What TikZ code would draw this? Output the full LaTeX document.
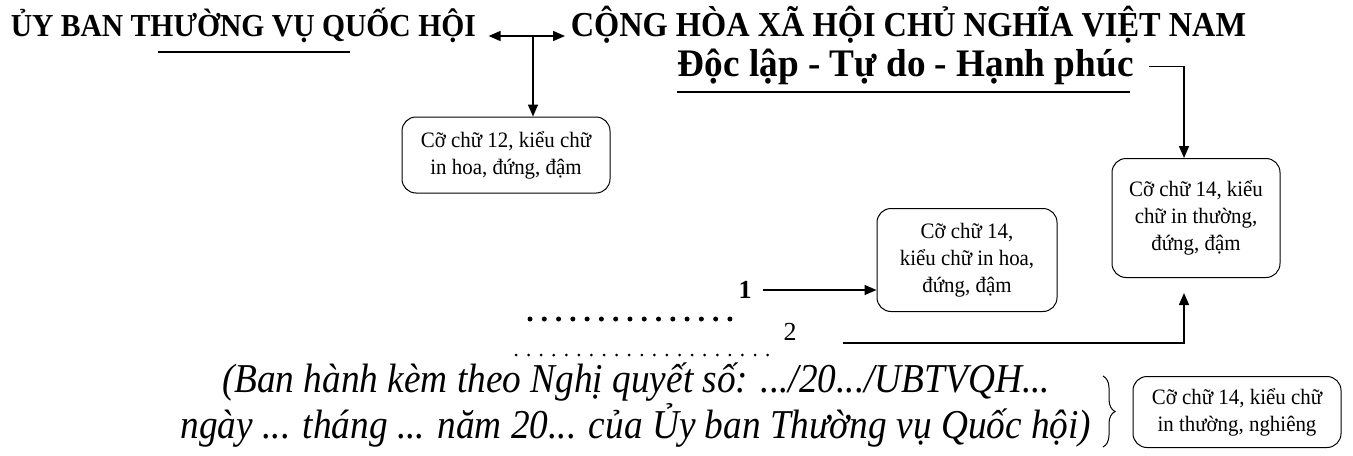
\documentclass[tikz,border=0pt]{standalone}
\usepackage{fontspec}
\setmainfont{Liberation Serif}
\newfontfamily\headfont[FakeStretch=0.925]{Liberation Serif}
\newfontfamily\mottofont[FakeStretch=0.955]{Liberation Serif}
\newfontfamily\notefont[FakeStretch=0.95]{Liberation Serif}
\newfontfamily\qdfont[FakeStretch=0.91]{Liberation Serif}
\usetikzlibrary{arrows.meta,decorations.pathreplacing}

\tikzset{
  heading/.style={font=\headfont\fontsize{16}{19}\selectfont\bfseries, inner sep=0pt},
  notebox/.style={draw, rounded corners=7pt, line width=0.5pt, align=center,
    font=\notefont\fontsize{11}{13.5}\selectfont, inner sep=2pt},
}

\begin{document}
\begin{tikzpicture}[x=0.5pt, y=-0.5pt, line width=0.75pt,
  >={Triangle[length=6pt,width=5pt]}]
\useasboundingbox (0,0) rectangle (1353,455);
% headings
\node[heading, anchor=base west] (uyban) at (10,36) {ỦY BAN THƯỜNG VỤ QUỐC HỘI};
\node[heading, font=\headfont\fontsize{17.5}{20}\selectfont\bfseries, anchor=base west]
  (quochieu) at (570,36) {CỘNG HÒA XÃ HỘI CHỦ NGHĨA VIỆT NAM};
\node[heading, font=\mottofont\fontsize{19.5}{22}\selectfont\bfseries, anchor=base west]
  (motto) at (677,76) {Độc lập - Tự do - Hạnh phúc};
\draw (158,52) -- (350,52);
\draw (677,92) -- (1130,92);
% notes
\node[notebox, minimum width=104pt, minimum height=38pt] (note12) at (506,155)
  {Cỡ chữ 12, kiểu chữ\\in hoa, đứng, đậm};
\node[notebox, minimum width=90pt, minimum height=51.5pt] (note14a) at (967,260)
  {Cỡ chữ 14,\\kiểu chữ in hoa,\\đứng, đậm};
\node[notebox, minimum width=84pt, minimum height=59.5pt] (note14b) at (1196,218)
  {Cỡ chữ 14, kiểu\\chữ in thường,\\đứng, đậm};
\node[notebox, minimum width=104pt, minimum height=35.5pt] (note14c) at (1237,412)
  {Cỡ chữ 14, kiểu chữ\\in thường, nghiêng};
% number and date
\draw[line width=2.5pt, line cap=round, dash pattern=on 0pt off 7.14pt] (530,319) -- (735,319);
\draw[line width=1.5pt, line cap=round, dash pattern=on 0pt off 6.29pt] (516,355) -- (780,355);
\node[font=\fontsize{13}{15}\selectfont\bfseries] (so1) at (745,290) {1};
\node[font=\fontsize{13}{15}\selectfont] (so2) at (790,332) {2};
\coordinate (src2) at (843,343);
\node[font=\qdfont\itshape\fontsize{20.5}{20}\selectfont, align=center, inner sep=0pt] (banhanh) at (636,405)
  {(Ban hành kèm theo Nghị quyết số: .../20.../UBTVQH...\\ngày ... tháng ... năm 20... của Ủy ban Thường vụ Quốc hội)};
% connectors
\coordinate (fork) at (533,36);
\draw[<->] ([xshift=6pt]uyban.base east) -- ([xshift=-2.5pt]quochieu.base west);
\draw[->] (fork) -- (fork |- note12.north);
\draw[->] ([xshift=7.5pt]motto.east) -| ([xshift=-6pt]note14b.north);
\draw[->] ([xshift=2pt]so1.east) -- (so1.east -| note14a.west);
\draw[->, shorten >=7.5pt] (src2) -| ([xshift=-6pt]note14b.south);
\draw[line width=0.5pt, decorate, decoration={brace, amplitude=6pt}] (1103,376) -- (1103,447);
\end{tikzpicture}
\end{document}
